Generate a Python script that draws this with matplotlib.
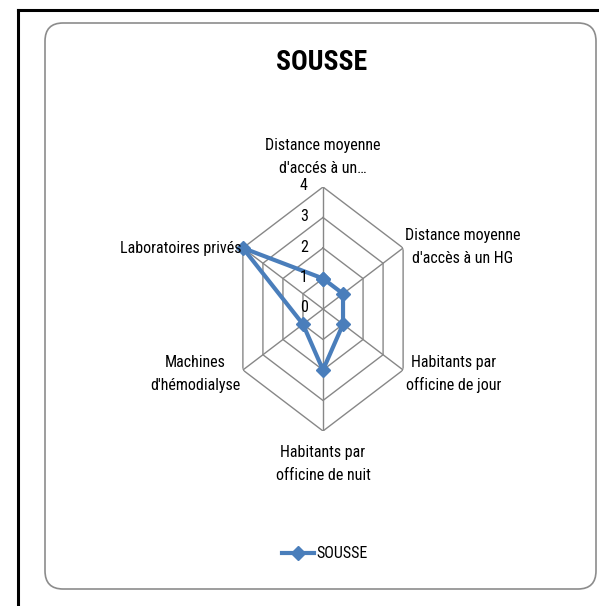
import numpy as np
import matplotlib.pyplot as plt
from matplotlib.patches import FancyBboxPatch
from matplotlib.lines import Line2D
from matplotlib.transforms import offset_copy

plt.rcParams['font.family'] = ['Roboto Condensed', 'DejaVu Sans']

categories = ["Distance moyenne\nd'accés à un…", "Distance moyenne\nd'accès à un HG",
              "Habitants par\nofficine de jour", "Habitants par\nofficine de nuit",
              "Machines\nd'hémodialyse", "Laboratoires privés"]
values = [1, 1, 1, 2, 1, 4]
rings = [0, 1, 2, 3, 4]
series_name = "SOUSSE"

W, H = 599, 606
fig = plt.figure(figsize=(W / 100, H / 100), dpi=100)

def fx(px):
    return px / W

def fy(py):
    return 1 - py / H

# outer black frame (left and top only) and rounded chart area
fig.add_artist(Line2D([fx(18), fx(18)], [fy(10), 0], color='black', lw=2.2))
fig.add_artist(Line2D([fx(18), 1], [fy(10), fy(10)], color='black', lw=2.2))
fig.add_artist(FancyBboxPatch((fx(45), fy(589)), fx(596) - fx(45), fy(23) - fy(589),
                              boxstyle="round,pad=0,rounding_size=0.03",
                              transform=fig.transFigure, fc='none', ec='#8c8c8c', lw=1.2))

# plot area is narrower than tall, so the hexagon gets stretched like in the original
cx, cy, Ry, Rx = 323, 309, 122, 92.5
ax = fig.add_axes([fx(cx - Rx), fy(cy + Ry), 2 * Rx / W, 2 * Ry / H], projection='polar')
ax.set_aspect('auto')
ax.set_theta_offset(np.pi / 2)
ax.set_theta_direction(-1)
ax.set_ylim(0, 4)
ax.grid(False)
ax.spines['polar'].set_visible(False)
ax.set_xticks([])
ax.set_yticks([])
ax.patch.set_alpha(0)

n = len(categories)
theta = np.arange(n) * 2 * np.pi / n
theta_c = np.append(theta, theta[0])

grid_col = '#878787'
for r in rings[1:]:
    ax.plot(theta_c, [r] * (n + 1), color=grid_col, lw=1.0, zorder=1)
for t in theta:
    ax.plot([t, t], [0, 4], color=grid_col, lw=1.0, zorder=1)

vals = np.append(values, values[0])
ax.plot(theta_c, vals, color='#4a7ebb', lw=3, marker='D', markersize=7,
        zorder=3, clip_on=False, label=series_name)

lab_tr = offset_copy(ax.transData, fig=fig, x=-19, y=1, units='dots')
for r in rings:
    ax.text(0, r, str(r), transform=lab_tr, ha='center', va='center', fontsize=11.5)

# category labels
label_pos = [(323, 157, 'center'), (463, 247, 'center'), (454, 374, 'center'),
             (323, 464, 'center'), (195, 374, 'center'), (242, 248, 'right')]
for lab, (px, py, ha) in zip(categories, label_pos):
    fig.text(fx(px), fy(py), lab, ha=ha, va='center', fontsize=11.5, linespacing=1.6)

fig.text(fx(322), fy(62), "SOUSSE", ha='center', va='center', fontsize=20, fontweight='bold')

fig.legend(loc='center', bbox_to_anchor=(fx(325), fy(554)), frameon=False, fontsize=11.5,
           handlelength=2.0, handletextpad=0.15)

fig.savefig('out.png', dpi=100, facecolor='white')
